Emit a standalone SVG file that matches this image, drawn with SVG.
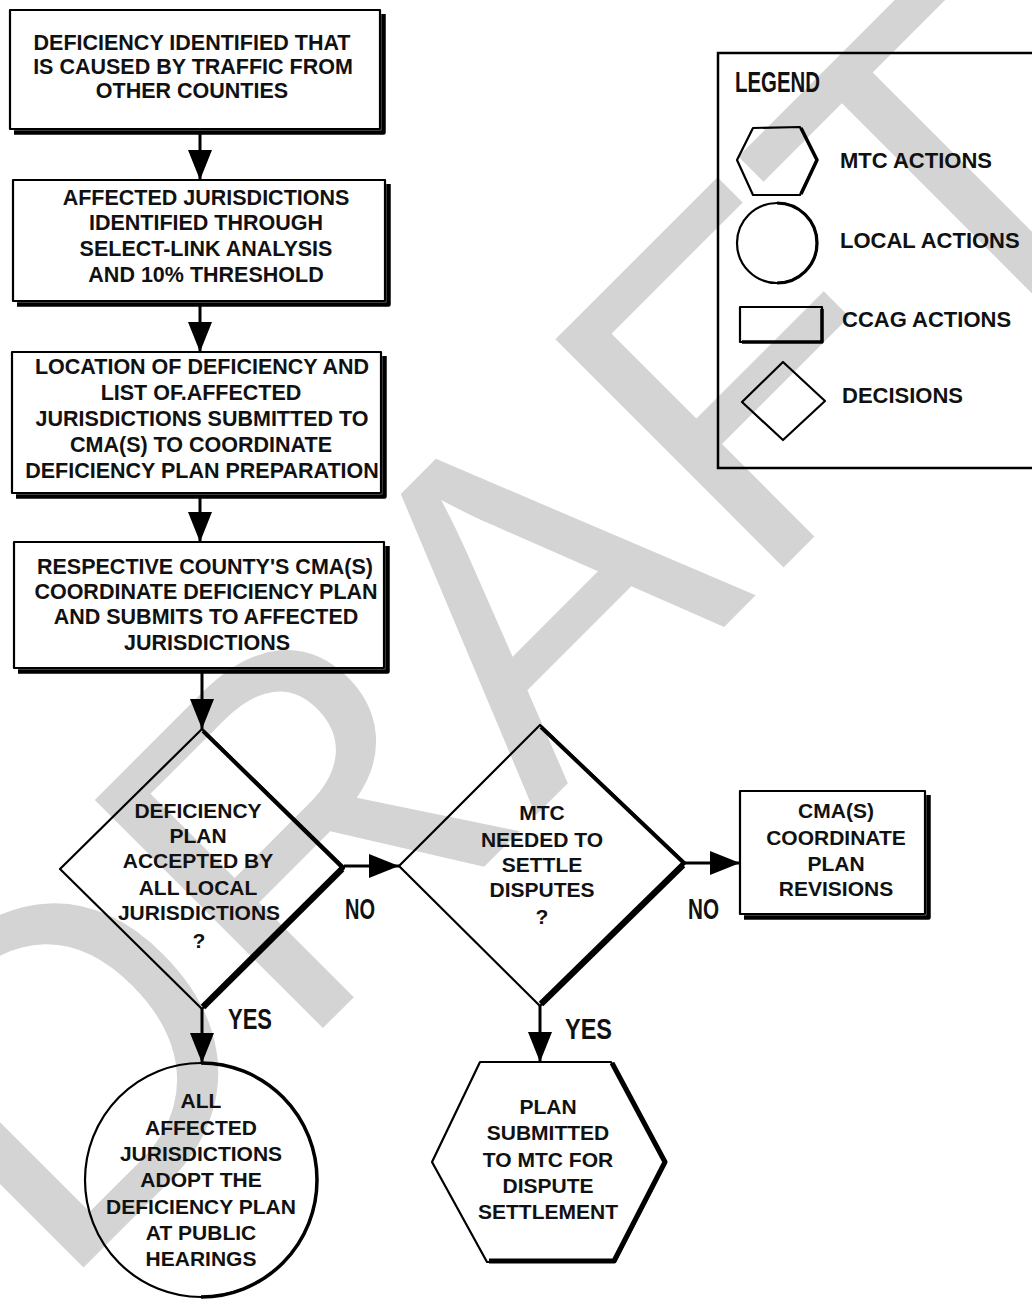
<svg xmlns="http://www.w3.org/2000/svg" width="1032" height="1299" viewBox="0 0 1032 1299">
<defs>
<style>
.wm{font-family:"Liberation Sans",Arial,sans-serif;font-size:469px;fill:#d4d4d4}
.s{fill:none;stroke:#000;stroke-width:2.2;stroke-linejoin:round}
.sh{fill:none;stroke:#000;stroke-width:4.5;stroke-linejoin:round}
.t{font-family:"Liberation Sans",Arial,sans-serif;font-weight:bold;font-size:21.5px;text-anchor:middle;fill:#111}
.td{font-family:"Liberation Sans",Arial,sans-serif;font-weight:bold;font-size:21px;text-anchor:middle;fill:#111}
.tl{font-family:"Liberation Sans",Arial,sans-serif;font-weight:bold;font-size:22px;fill:#111}
.lab{font-family:"Liberation Sans",Arial,sans-serif;font-weight:bold;font-size:29px;fill:#111}
.c{fill:none;stroke:#000;stroke-width:3}
</style>
<marker id="ah" markerUnits="userSpaceOnUse" markerWidth="30" markerHeight="24" refX="30" refY="12" orient="auto">
<path d="M0,0 L30,12 L0,24 Z" fill="#000"/>
</marker>
</defs>
<rect width="1032" height="1299" fill="#fff"/>
<g id="watermark" transform="translate(56.3,1294.7) rotate(-45)">
<text class="wm" x="0 338.6 677.2 990 1276.6" y="0">DRAFT</text>
</g>
<g id="legend">
<rect x="718" y="53" width="340" height="415" fill="none" stroke="#000" stroke-width="2.5"/>
<text class="lab" x="735" y="92" textLength="85" lengthAdjust="spacingAndGlyphs">LEGEND</text>
<polygon class="s" points="737,160 753,128 800,127 817,160 800,195 753,195"/>
<path class="sh" d="M801,128 L817,160 L801,194" style="stroke-width:3.5"/>
<text class="tl" x="840" y="168">MTC ACTIONS</text>
<circle class="s" cx="777" cy="243" r="40"/>
<path class="sh" d="M777,203 A40,40 0 0 1 777,283" style="stroke-width:3.2"/>
<text class="tl" x="840" y="248">LOCAL ACTIONS</text>
<rect class="s" x="740" y="307" width="82" height="35"/>
<path class="sh" d="M822,309 V342 H742" style="stroke-width:3.5"/>
<text class="tl" x="842" y="327">CCAG ACTIONS</text>
<polygon class="s" points="783,362 825,401 783,440 742,402"/>
<text class="tl" x="842" y="403">DECISIONS</text>
</g>
<g id="n1">
<rect class="s" x="10" y="10" width="370" height="119"/>
<path class="sh" d="M383.5,14 V132.5 H14"/>
<text class="t" x="192" y="50">DEFICIENCY IDENTIFIED THAT</text>
<text class="t" x="193" y="74">IS CAUSED BY TRAFFIC FROM</text>
<text class="t" x="192" y="98">OTHER COUNTIES</text>
</g>
<g id="n2">
<rect class="s" x="13" y="180" width="372" height="121"/>
<path class="sh" d="M388.5,184 V304.5 H17"/>
<text class="t" x="206" y="205">AFFECTED JURISDICTIONS</text>
<text class="t" x="206" y="230">IDENTIFIED THROUGH</text>
<text class="t" x="206" y="256">SELECT-LINK ANALYSIS</text>
<text class="t" x="206" y="282">AND 10% THRESHOLD</text>
</g>
<g id="n3">
<rect class="s" x="12" y="352" width="369" height="141"/>
<path class="sh" d="M384.5,356 V496.5 H16"/>
<text class="t" x="202" y="374">LOCATION OF DEFICIENCY AND</text>
<text class="t" x="201" y="400">LIST OF.AFFECTED</text>
<text class="t" x="202" y="426">JURISDICTIONS SUBMITTED TO</text>
<text class="t" x="201" y="452">CMA(S) TO COORDINATE</text>
<text class="t" x="202" y="478">DEFICIENCY PLAN PREPARATION</text>
</g>
<g id="n4">
<rect class="s" x="14" y="542" width="370" height="126"/>
<path class="sh" d="M387.5,546 V671.5 H18"/>
<text class="t" x="205" y="574">RESPECTIVE COUNTY'S CMA(S)</text>
<text class="t" x="206" y="599">COORDINATE DEFICIENCY PLAN</text>
<text class="t" x="206" y="624">AND SUBMITS TO AFFECTED</text>
<text class="t" x="207" y="650">JURISDICTIONS</text>
</g>
<g id="d1">
<polygon class="s" points="202,729 344,867 202,1009 60,869"/>
<path class="sh" d="M203,731 L343,868 L203,1007" style="stroke-width:4"/>
<path class="sh" d="M342,869 L203,1007" style="stroke-width:6.5"/>
<text class="td" x="198" y="818">DEFICIENCY</text>
<text class="td" x="198" y="843">PLAN</text>
<text class="td" x="198" y="868">ACCEPTED BY</text>
<text class="td" x="198" y="895">ALL LOCAL</text>
<text class="td" x="199" y="920">JURISDICTIONS</text>
<text class="td" x="199" y="948">?</text>
</g>
<g id="d2">
<polygon class="s" points="540,725 685,863 540,1006 399,866"/>
<path class="sh" d="M541,727 L684,863 L541,1004" style="stroke-width:4"/>
<path class="sh" d="M683,865 L541,1004" style="stroke-width:6.5"/>
<text class="td" x="542" y="820">MTC</text>
<text class="td" x="542" y="847">NEEDED TO</text>
<text class="td" x="542" y="872">SETTLE</text>
<text class="td" x="542" y="897">DISPUTES</text>
<text class="td" x="542" y="924">?</text>
</g>
<g id="n5">
<rect class="s" x="740" y="791" width="185" height="123"/>
<path class="sh" d="M928.5,795 V917.5 H744"/>
<text class="td" x="836" y="818">CMA(S)</text>
<text class="td" x="836" y="845">COORDINATE</text>
<text class="td" x="836" y="871">PLAN</text>
<text class="td" x="836" y="896">REVISIONS</text>
</g>
<g id="n6">
<ellipse class="s" cx="201" cy="1180" rx="116" ry="117"/>
<path class="sh" d="M201,1063 A116,117 0 0 1 201,1297" style="stroke-width:3.5"/>
<text class="td" x="201" y="1108">ALL</text>
<text class="td" x="201" y="1135">AFFECTED</text>
<text class="td" x="201" y="1161">JURISDICTIONS</text>
<text class="td" x="201" y="1187">ADOPT THE</text>
<text class="td" x="201" y="1214">DEFICIENCY PLAN</text>
<text class="td" x="201" y="1240">AT PUBLIC</text>
<text class="td" x="201" y="1266">HEARINGS</text>
</g>
<g id="n7">
<polygon class="s" points="480,1062 611,1062 666,1162 615,1262 487,1262 432,1162"/>
<path class="sh" d="M612,1063 L665,1162 L614,1261 H489" style="stroke-width:5"/>
<text class="td" x="548" y="1114">PLAN</text>
<text class="td" x="548" y="1140">SUBMITTED</text>
<text class="td" x="548" y="1167">TO MTC FOR</text>
<text class="td" x="548" y="1193">DISPUTE</text>
<text class="td" x="548" y="1219">SETTLEMENT</text>
</g>
<g id="connectors">
<line class="c" x1="200" y1="131" x2="200" y2="180" marker-end="url(#ah)"/>
<line class="c" x1="200" y1="303" x2="200" y2="352" marker-end="url(#ah)"/>
<line class="c" x1="200" y1="496" x2="200" y2="542" marker-end="url(#ah)"/>
<line class="c" x1="202" y1="670" x2="202" y2="729" marker-end="url(#ah)"/>
<line class="c" x1="344" y1="866" x2="399" y2="866" marker-end="url(#ah)"/>
<line class="c" x1="685" y1="863" x2="740" y2="863" marker-end="url(#ah)"/>
<line class="c" x1="202" y1="1009" x2="202" y2="1063" marker-end="url(#ah)"/>
<line class="c" x1="540" y1="1006" x2="540" y2="1062" marker-end="url(#ah)"/>
<text class="lab" x="345" y="919" textLength="30" lengthAdjust="spacingAndGlyphs">NO</text>
<text class="lab" x="688" y="919" textLength="31" lengthAdjust="spacingAndGlyphs">NO</text>
<text class="lab" x="228" y="1029" textLength="44" lengthAdjust="spacingAndGlyphs">YES</text>
<text class="lab" x="565" y="1039" textLength="47" lengthAdjust="spacingAndGlyphs">YES</text>
</g>
</svg>
